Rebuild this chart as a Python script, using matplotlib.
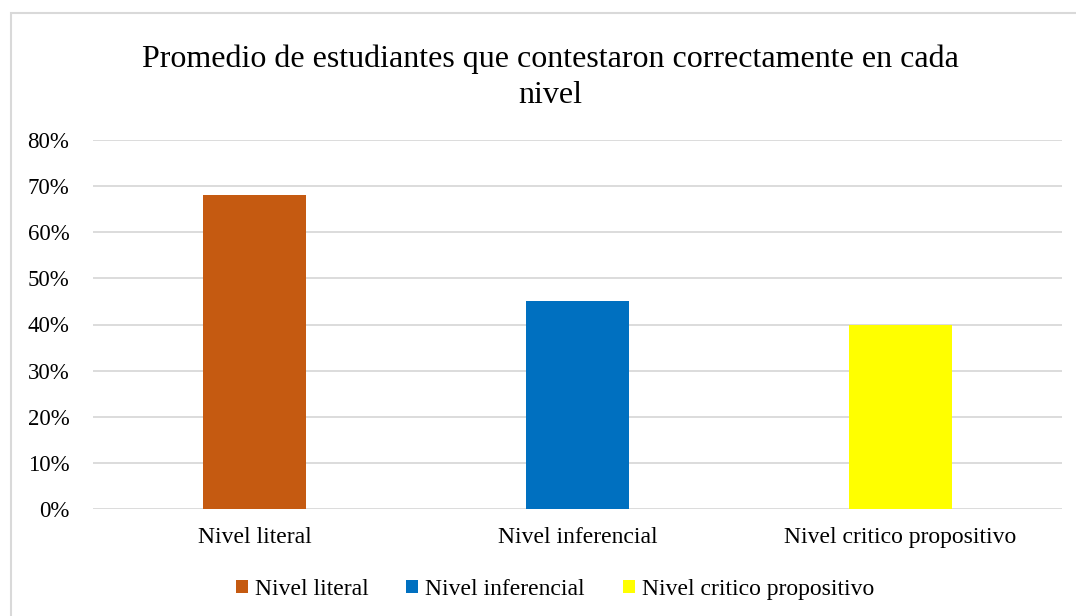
import matplotlib
matplotlib.use("Agg")
import matplotlib.pyplot as plt
from matplotlib.patches import Rectangle
from matplotlib.ticker import FuncFormatter

categories = ["Nivel literal", "Nivel inferencial", "Nivel critico propositivo"]
values = [0.68, 0.45, 0.40]
colors = ["#C55A11", "#0070C0", "#FFFF00"]
yticks = [0.0, 0.1, 0.2, 0.3, 0.4, 0.5, 0.6, 0.7, 0.8]
title = "Promedio de estudiantes que contestaron correctamente en cada\nnivel"

plt.rcParams["font.family"] = ["Liberation Serif", "DejaVu Serif"]

W, H = 1076, 616
fig = plt.figure(figsize=(W / 100, H / 100), dpi=100)

# Chart frame (light grey border, open at right/bottom edges of the canvas)
fig.patches.append(Rectangle((11 / W, -0.05), 1.2, (H - 13) / H + 0.05,
                             transform=fig.transFigure, fill=False,
                             edgecolor="#D9D9D9", linewidth=1.5))

ax = fig.add_axes([93 / W, (H - 509) / H, (1062 - 93) / W, (509 - 140) / H])
x = list(range(len(categories)))
bars = ax.bar(x, values, width=0.316, color=colors, zorder=3)

ax.set_xlim(-0.5, len(categories) - 0.5)
ax.set_ylim(0, 0.8)
ax.set_yticks(yticks)
ax.yaxis.set_major_formatter(FuncFormatter(lambda v, _: f"{v * 100:.0f}%"))
ax.set_xticks(x)
ax.set_xticklabels(categories)
ax.tick_params(axis="both", length=0, colors="#000000")
ax.tick_params(axis="x", pad=13, labelsize=17)
ax.tick_params(axis="y", pad=17, labelsize=16.5)
ax.grid(axis="y", color="#D9D9D9", linewidth=1.3, zorder=0)
for s in ax.spines.values():
    s.set_visible(False)

fig.text(550 / W, 1 - 77 / H, title, ha="center", va="center",
         fontsize=23, linespacing=1.3)

leg = fig.legend(bars, categories, loc="center", bbox_to_anchor=(555 / W, 1 - 589.5 / H),
                 ncol=3, frameon=False, fontsize=17, handlelength=0.5,
                 handleheight=0.5, handletextpad=0.3, columnspacing=1.6)

fig.savefig("out.png", dpi=100, facecolor="white")
